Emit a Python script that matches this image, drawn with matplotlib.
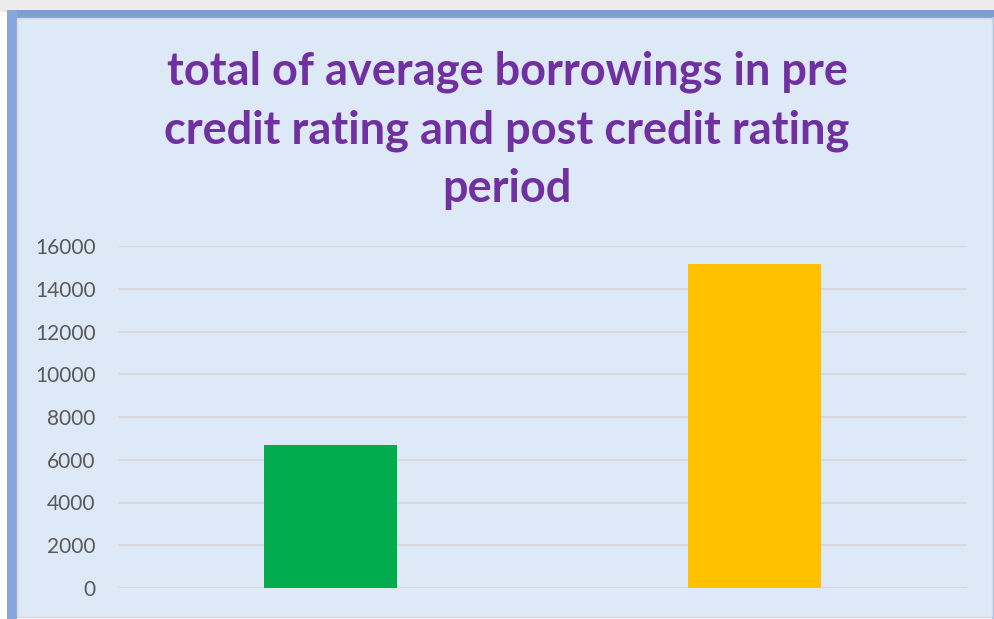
import matplotlib
matplotlib.use("Agg")
import matplotlib.pyplot as plt
from matplotlib.patches import Rectangle

# average borrowings, pre vs post credit rating
periods = ["pre credit rating", "post credit rating"]
borrowings = [6700, 15150]
bar_colors = ["#00ac4e", "#ffc000"]
y_ticks = [0, 2000, 4000, 6000, 8000, 10000, 12000, 14000, 16000]
title_lines = ["total of average borrowings in pre",
               "credit rating and post credit rating",
               "period"]

W, H = 995, 619
fig = plt.figure(figsize=(W / 100, H / 100), dpi=100, facecolor="white")

def px(x0, y0, x1, y1):
    # pixel box (top-left origin) -> figure fraction rect
    return (x0 / W, 1 - y1 / H, (x1 - x0) / W, (y1 - y0) / H)

# drop shadow / frame
for box, col in [((0, 0, W, 12), "#ececec"),
                 ((7, 10, W, 19), "#7e9fd6"),
                 ((7, 10, 17, H), "#86a6dc"),
                 ((992, 17, W, H), "#a9c2e8")]:
    x, y, w, h = px(*box)
    fig.patches.append(Rectangle((x, y), w, h, transform=fig.transFigure,
                                 facecolor=col, edgecolor="none", zorder=0))
x, y, w, h = px(17, 18, 992, 617)
fig.patches.append(Rectangle((x, y), w, h, transform=fig.transFigure,
                             facecolor="#dde9f7", edgecolor="#d4d8de",
                             linewidth=1.0, zorder=0.5))

# title, one text per line
for i, line in enumerate(title_lines):
    fig.text(507 / W, 1 - (72 + i * 58.5) / H, line, ha="center", va="center",
             fontsize=32.5, fontweight="bold", color="#7030a0", family="Lato",
             zorder=3)

ax = fig.add_axes(px(118, 246, 967, 588), zorder=2)
ax.set_facecolor("none")
ax.bar(range(len(periods)), borrowings, width=0.313, color=bar_colors, zorder=3)
ax.set_xlim(-0.5, 1.5)
ax.set_ylim(0, 16000)
ax.set_yticks(y_ticks)
ax.set_yticklabels([str(v) for v in y_ticks], fontsize=15, color="#595959",
                   family="Lato")
ax.tick_params(axis="y", length=0, pad=16)
ax.set_xticks([])
ax.grid(axis="y", color="#d9d9d9", linewidth=1.5, zorder=1)
for s in ax.spines.values():
    s.set_visible(False)

fig.savefig("out.png", dpi=100, facecolor=fig.get_facecolor())
